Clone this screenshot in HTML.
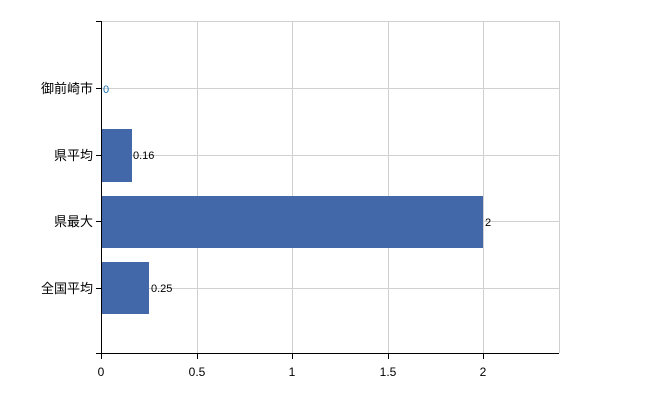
<!DOCTYPE html>
<html><head><meta charset="utf-8"><style>body{margin:0;background:#fff}</style></head><body>
<svg width="650" height="400" xmlns="http://www.w3.org/2000/svg" font-family="Liberation Sans, Noto Sans CJK JP, sans-serif">
<g stroke="#d0d0d0" stroke-width="1">
<line x1="101" y1="21.5" x2="559" y2="21.5"/>
<line x1="101" y1="88.5" x2="559" y2="88.5"/>
<line x1="101" y1="155.5" x2="559" y2="155.5"/>
<line x1="101" y1="221.5" x2="559" y2="221.5"/>
<line x1="101" y1="288.5" x2="559" y2="288.5"/>
<line x1="197.5" y1="21" x2="197.5" y2="353"/>
<line x1="292.5" y1="21" x2="292.5" y2="353"/>
<line x1="388.5" y1="21" x2="388.5" y2="353"/>
<line x1="483.5" y1="21" x2="483.5" y2="353"/>
<line x1="559.5" y1="21" x2="559.5" y2="353"/>
</g>
<g fill="#4268a9">
<rect x="101" y="129" width="31" height="53"/>
<rect x="101" y="196" width="382" height="52"/>
<rect x="101" y="262" width="48" height="52"/>
</g>
<g stroke="#000" stroke-width="1">
<line x1="101.5" y1="21" x2="101.5" y2="354"/>
<line x1="96" y1="21.5" x2="101" y2="21.5"/>
<line x1="96" y1="88.5" x2="101" y2="88.5"/>
<line x1="96" y1="155.5" x2="101" y2="155.5"/>
<line x1="96" y1="221.5" x2="101" y2="221.5"/>
<line x1="96" y1="288.5" x2="101" y2="288.5"/>
<line x1="96" y1="353.5" x2="559" y2="353.5"/>
<line x1="101.5" y1="353" x2="101.5" y2="359"/>
<line x1="197.5" y1="353" x2="197.5" y2="359"/>
<line x1="292.5" y1="353" x2="292.5" y2="359"/>
<line x1="388.5" y1="353" x2="388.5" y2="359"/>
<line x1="483.5" y1="353" x2="483.5" y2="359"/>
</g>
<g font-size="13" text-anchor="end" fill="#000">
<text x="93" y="93">御前崎市</text>
<text x="93" y="160">県平均</text>
<text x="93" y="226">県最大</text>
<text x="93" y="293">全国平均</text>
</g>
<g font-size="12" text-anchor="middle" fill="#000">
<text x="101" y="376">0</text>
<text x="197" y="376">0.5</text>
<text x="292" y="376">1</text>
<text x="388" y="376">1.5</text>
<text x="483" y="376">2</text>
</g>
<g font-size="11" fill="#000">
<text x="103" y="93" fill="#1a6fb0">0</text>
<text x="133" y="159">0.16</text>
<text x="485" y="226">2</text>
<text x="151" y="292">0.25</text>
</g>
</svg>
</body></html>
